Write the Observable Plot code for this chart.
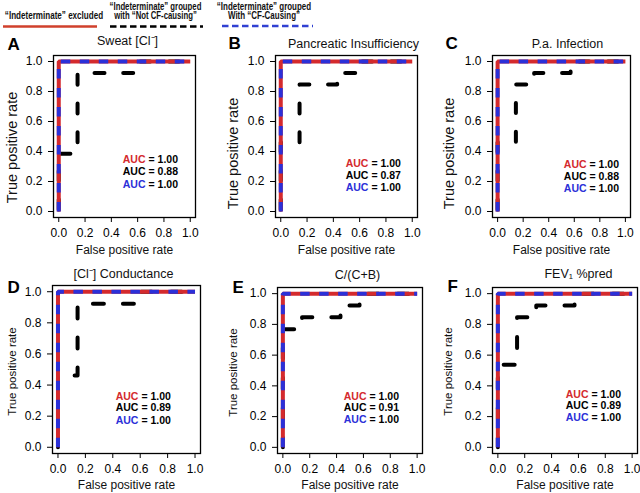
<!DOCTYPE html>
<html><head><meta charset="utf-8">
<script src="https://cdn.jsdelivr.net/npm/d3@7"></script>
<script src="https://cdn.jsdelivr.net/npm/@observablehq/plot@0.6"></script>
<style>
body{margin:0;background:#fff;}
#fig{position:relative;width:640px;height:493px;overflow:hidden;font-family:"Liberation Sans",Arial,Helvetica,sans-serif;background:#fff;}
</style></head><body><div id="fig"></div>
<script>
// ---------- data ----------
const seriesLabels = [
  ["“Indeterminate” excluded"],
  ["“Indeterminate” grouped", "with “Not CF-causing”"],
  ["“Indeterminate” grouped", "With “CF-Causing”"]
];
const panelLetters = ["A", "B", "C", "D", "E", "F"];
const panelTitles = ["Sweat [Cl⁻]", "Pancreatic Insufficiency", "P.a. Infection", "[Cl⁻] Conductance", "C/(C+B)", "FEV₁ %pred"];
const xAxisTitle = "False positive rate";
const yAxisTitle = "True positive rate";
const axisTicks = [0, 0.2, 0.4, 0.6, 0.8, 1.0];

const aucExcluded = [1.00, 1.00, 1.00, 1.00, 1.00, 1.00];
const aucNotCF    = [0.88, 0.87, 0.88, 0.89, 0.91, 0.89];
const aucCF       = [1.00, 1.00, 1.00, 1.00, 1.00, 1.00];

// ROC curve, "Indeterminate" excluded (same in every panel)
const rocExcludedFpr = [0, 0, 1];
const rocExcludedTpr = [0, 1, 1];
// ROC curve, "Indeterminate" grouped with "CF-Causing"
const rocCFFpr = [0, 0, 1];
const rocCFTpr = [0, 1, 1];
// ROC curves, "Indeterminate" grouped with "Not CF-causing"
const rocNotCFFpr = [
  [0, 0, 0.143, 0.143, 0.571, 0.571, 1],
  [0, 0, 0.143, 0.143, 0.429, 0.429, 0.571, 0.571, 1],
  [0, 0, 0.143, 0.143, 0.286, 0.286, 0.571, 0.571, 1],
  [0, 0, 0.143, 0.143, 0.571, 0.571, 1],
  [0, 0, 0.143, 0.143, 0.429, 0.429, 0.571, 0.571, 1],
  [0, 0, 0.143, 0.143, 0.286, 0.286, 0.571, 0.571, 1]
];
const rocNotCFTpr = [
  [0, 0.385, 0.385, 0.923, 0.923, 1, 1],
  [0, 0.462, 0.462, 0.846, 0.846, 0.923, 0.923, 1, 1],
  [0, 0.462, 0.462, 0.846, 0.846, 0.923, 0.923, 1, 1],
  [0, 0.462, 0.462, 0.923, 0.923, 1, 1],
  [0, 0.769, 0.769, 0.846, 0.846, 0.923, 0.923, 1, 1],
  [0, 0.538, 0.538, 0.846, 0.846, 0.923, 0.923, 1, 1]
];

// ---------- styles / layout ----------
const RED = "#d42a2d", BLUE = "#2b30d8", BLACK = "#000";
const FONT = '"Liberation Sans", Arial, Helvetica, sans-serif';
// region: [left, top, width, height]; box: [x0, x1, y0, y1]
const topDash = {dash: "10,18.7", offset: -2};
const botDash = {dash: "11,19", offset: 1.5};
const layout = [
  {region:[0,30,212,230],   box:[53,195,55,217],  titleDx:3,   titleDy:-15, letDx:-46, letDy:-11, yTitleDx:-41, yTitleDy:11, yTitleSize:14.5, xTitleDy:33, aucX:0.66,  aucY:[0.347,0.267,0.18],  d: topDash},
  {region:[212,30,213,230], box:[275,417,55,217], titleDx:7,   titleDy:-12, letDx:-47, letDy:-12, yTitleDx:-42, yTitleDy:17, yTitleSize:14.5, xTitleDy:33, aucX:0.667, aucY:[0.32,0.24,0.16],   d: topDash},
  {region:[425,30,215,230], box:[492,630,55,217], titleDx:6,   titleDy:-12, letDx:-47, letDy:-12, yTitleDx:-43, yTitleDy:17, yTitleSize:14.5, xTitleDy:33, aucX:0.696, aucY:[0.313,0.233,0.153],d: topDash},
  {region:[0,250,212,243],  box:[52,200,285,453], titleDx:-3,  titleDy:-12, letDx:-45, letDy:2,   yTitleDx:-40, yTitleDy:2,  yTitleSize:11.5, xTitleDy:32, aucX:0.587, aucY:[0.326,0.256,0.172],d: botDash},
  {region:[212,250,213,243],box:[277,422,287,453],titleDx:7.5, titleDy:-13, letDx:-45, letDy:0,   yTitleDx:-44, yTitleDy:2,  yTitleSize:11.5, xTitleDy:32, aucX:0.623, aucY:[0.331,0.26,0.182], d: botDash},
  {region:[425,250,215,243],box:[492,637,287,453],titleDx:13.5,titleDy:-14, letDx:-45, letDy:-1,  yTitleDx:-44, yTitleDy:1,  yTitleSize:11.5, xTitleDy:32, aucX:0.675, aucY:[0.344,0.273,0.195],d: botDash}
];

const fig = document.getElementById("fig");

// ---------- legend ----------
(function legend() {
  const svg = d3.select(fig).append("svg")
    .attr("width", 640).attr("height", 32)
    .style("position", "absolute").style("left", "0px").style("top", "0px")
    .attr("font-family", FONT);
  const spec = [
    {cx:54,  y:18.5, sx:0.77, line:[3,97,26.5],    color:"#d0402c", dash:null},
    {cx:155.5, y:9.5, sx:0.74, line:[110,203,26.5], color:BLACK,     dash:"6.5,3.5"},
    {cx:264, y:9.5,  sx:0.76, line:[222,313,26],    color:"#3040d2", dash:"6.5,3.5"}
  ];
  spec.forEach((s, i) => {
    const t = svg.append("text")
      .attr("transform", `translate(${s.cx},${s.y}) scale(${s.sx},1)`)
      .attr("text-anchor", "middle").attr("font-weight", "bold").attr("font-size", 10.5)
      .attr("fill", "#111");
    seriesLabels[i].forEach((line, j) => {
      t.append("tspan").attr("x", 0).attr("dy", j === 0 ? 0 : 10).text(line);
    });
    const ln = svg.append("line").attr("x1", s.line[0]).attr("x2", s.line[1])
      .attr("y1", s.line[2]).attr("y2", s.line[2])
      .attr("stroke", s.color).attr("stroke-width", 2.6);
    if (s.dash) ln.attr("stroke-dasharray", s.dash);
  });
})();

// ---------- panels ----------
panelTitles.forEach((title, i) => {
  const L = layout[i];
  const [left, top, w, h] = L.region;
  const [bx0, bx1, by0, by1] = L.box;
  const notCF = rocNotCFFpr[i].map((f, j) => ({fpr: f, tpr: rocNotCFTpr[i][j]}));
  const excl = rocExcludedFpr.map((f, j) => ({fpr: f, tpr: rocExcludedTpr[j]}));
  const cf = rocCFFpr.map((f, j) => ({fpr: f, tpr: rocCFTpr[j]}));
  const aucRows = [
    {x: L.aucX, y: L.aucY[0], lab: "AUC", val: "= " + aucExcluded[i].toFixed(2), c: RED},
    {x: L.aucX, y: L.aucY[1], lab: "AUC", val: "= " + aucNotCF[i].toFixed(2), c: BLACK},
    {x: L.aucX, y: L.aucY[2], lab: "AUC", val: "= " + aucCF[i].toFixed(2), c: BLUE}
  ];
  const chart = Plot.plot({
    width: w, height: h,
    marginLeft: bx0 - left, marginRight: left + w - bx1,
    marginTop: by0 - top, marginBottom: top + h - by1,
    x: {domain: [-0.04, 1.04]},
    y: {domain: [-0.04, 1.04]},
    style: {fontFamily: FONT, fontSize: "12px", color: "black", background: "transparent", overflow: "visible"},
    marks: [
      Plot.axisX({ticks: axisTicks, tickFormat: d => d.toFixed(1), tickSize: 5, tickPadding: 6, label: null, fontSize: 12}),
      Plot.axisY({ticks: axisTicks, tickFormat: d => d.toFixed(1), tickSize: 5, tickPadding: 6, label: null, fontSize: 12}),
      Plot.line(notCF, {x: "fpr", y: "tpr", stroke: BLACK, strokeWidth: 4, strokeDasharray: L.d.dash, strokeDashoffset: L.d.offset, strokeLinecap: "round", strokeLinejoin: "round"}),
      Plot.line(excl, {x: "fpr", y: "tpr", stroke: RED, strokeWidth: 4, strokeLinecap: "butt", strokeLinejoin: "miter"}),
      Plot.line(cf, {x: "fpr", y: "tpr", stroke: BLUE, strokeWidth: 4, strokeDasharray: "9.5,9.5", strokeLinecap: "butt", strokeLinejoin: "miter"}),
      Plot.frame({stroke: BLACK, strokeWidth: 1.3}),
      Plot.text(aucRows, {x: "x", y: "y", text: "lab", fill: "c", textAnchor: "end", fontWeight: "bold", fontSize: 10.5}),
      Plot.text(aucRows, {x: "x", y: "y", text: "val", fill: BLACK, textAnchor: "start", dx: 3, fontWeight: "bold", fontSize: 10.5}),
      Plot.text([title], {frameAnchor: "top", text: d => d, textAnchor: "middle", lineAnchor: "middle", dx: L.titleDx, dy: L.titleDy, fontSize: 12.5, fill: "#111"}),
      Plot.text([panelLetters[i]], {frameAnchor: "top-left", text: d => d, textAnchor: "start", lineAnchor: "middle", dx: L.letDx, dy: L.letDy, fontSize: 17, fontWeight: "bold", fill: BLACK}),
      Plot.text([xAxisTitle], {frameAnchor: "bottom", text: d => d, textAnchor: "middle", lineAnchor: "middle", dy: L.xTitleDy, fontSize: 12, fill: "#111"}),
      Plot.text([yAxisTitle], {frameAnchor: "left", text: d => d, textAnchor: "middle", lineAnchor: "middle", rotate: -90, dx: L.yTitleDx, dy: L.yTitleDy, fontSize: L.yTitleSize, fill: "#111"})
    ]
  });
  chart.style.position = "absolute";
  chart.style.left = left + "px";
  chart.style.top = top + "px";
  chart.style.maxWidth = "none";
  fig.appendChild(chart);
});
</script></body></html>
